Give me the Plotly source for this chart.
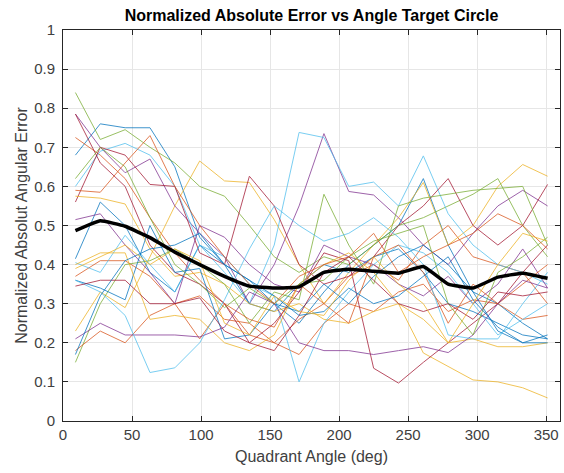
import plotly.graph_objects as go

angles = [9, 27, 45, 63, 81, 99, 117, 135, 153, 171, 189, 207, 225, 243, 261, 279, 297, 315, 333, 351]

subjects = [
    [0.68, 0.76, 0.75, 0.75, 0.65, 0.47, 0.40, 0.36, 0.30, 0.25, 0.33, 0.40, 0.45, 0.50, 0.62, 0.45, 0.33, 0.30, 0.25, 0.21],
    [0.725, 0.68, 0.62, 0.52, 0.43, 0.36, 0.30, 0.22, 0.20, 0.26, 0.30, 0.37, 0.40, 0.36, 0.45, 0.50, 0.42, 0.40, 0.38, 0.30],
    [0.23, 0.33, 0.29, 0.42, 0.55, 0.665, 0.614, 0.61, 0.515, 0.40, 0.30, 0.38, 0.45, 0.52, 0.61, 0.45, 0.50, 0.60, 0.656, 0.626],
    [0.785, 0.70, 0.635, 0.67, 0.55, 0.48, 0.42, 0.30, 0.40, 0.55, 0.735, 0.587, 0.578, 0.52, 0.45, 0.40, 0.48, 0.55, 0.59, 0.55],
    [0.84, 0.72, 0.745, 0.70, 0.66, 0.60, 0.575, 0.50, 0.42, 0.38, 0.42, 0.40, 0.45, 0.50, 0.52, 0.55, 0.58, 0.62, 0.50, 0.42],
    [0.60, 0.69, 0.71, 0.68, 0.60, 0.45, 0.38, 0.30, 0.45, 0.738, 0.725, 0.60, 0.611, 0.55, 0.678, 0.53, 0.45, 0.40, 0.38, 0.35],
    [0.56, 0.70, 0.68, 0.605, 0.60, 0.43, 0.40, 0.626, 0.55, 0.40, 0.35, 0.37, 0.42, 0.50, 0.55, 0.62, 0.50, 0.45, 0.50, 0.605],
    [0.415, 0.56, 0.50, 0.38, 0.33, 0.45, 0.40, 0.30, 0.28, 0.35, 0.40, 0.38, 0.42, 0.44, 0.38, 0.30, 0.28, 0.25, 0.22, 0.21],
    [0.37, 0.41, 0.41, 0.37, 0.30, 0.32, 0.26, 0.25, 0.20, 0.17, 0.25, 0.30, 0.28, 0.33, 0.35, 0.28, 0.31, 0.30, 0.26, 0.27],
    [0.575, 0.57, 0.555, 0.44, 0.37, 0.38, 0.35, 0.30, 0.28, 0.30, 0.26, 0.25, 0.28, 0.30, 0.174, 0.139, 0.105, 0.10, 0.085, 0.059],
    [0.515, 0.53, 0.45, 0.38, 0.30, 0.50, 0.47, 0.40, 0.35, 0.33, 0.45, 0.42, 0.40, 0.35, 0.32, 0.37, 0.30, 0.35, 0.44, 0.34],
    [0.15, 0.30, 0.40, 0.41, 0.44, 0.40, 0.35, 0.25, 0.33, 0.31, 0.58, 0.45, 0.35, 0.55, 0.57, 0.58, 0.59, 0.595, 0.60, 0.45],
    [0.405, 0.38, 0.475, 0.40, 0.33, 0.45, 0.42, 0.35, 0.32, 0.10, 0.25, 0.33, 0.40, 0.45, 0.43, 0.38, 0.30, 0.22, 0.26, 0.30],
    [0.785, 0.66, 0.60, 0.45, 0.38, 0.35, 0.30, 0.20, 0.25, 0.33, 0.43, 0.41, 0.135, 0.097, 0.15, 0.20, 0.25, 0.30, 0.38, 0.45],
    [0.36, 0.34, 0.31, 0.50, 0.38, 0.39, 0.21, 0.22, 0.30, 0.28, 0.35, 0.30, 0.37, 0.42, 0.45, 0.40, 0.33, 0.23, 0.20, 0.22],
    [0.18, 0.23, 0.20, 0.27, 0.30, 0.21, 0.30, 0.26, 0.24, 0.35, 0.30, 0.25, 0.42, 0.45, 0.38, 0.25, 0.35, 0.30, 0.35, 0.40],
    [0.40, 0.43, 0.43, 0.26, 0.27, 0.26, 0.20, 0.18, 0.22, 0.35, 0.40, 0.43, 0.38, 0.30, 0.26, 0.20, 0.21, 0.19, 0.19, 0.20],
    [0.21, 0.25, 0.22, 0.22, 0.22, 0.215, 0.24, 0.33, 0.30, 0.20, 0.18, 0.18, 0.17, 0.18, 0.19, 0.175, 0.22, 0.30, 0.36, 0.34],
    [0.62, 0.70, 0.65, 0.52, 0.40, 0.35, 0.29, 0.34, 0.30, 0.35, 0.36, 0.42, 0.46, 0.48, 0.50, 0.30, 0.22, 0.38, 0.42, 0.47],
    [0.36, 0.33, 0.27, 0.124, 0.136, 0.20, 0.31, 0.44, 0.55, 0.50, 0.46, 0.48, 0.52, 0.47, 0.40, 0.22, 0.21, 0.21, 0.30, 0.38],
    [0.345, 0.36, 0.36, 0.30, 0.30, 0.315, 0.23, 0.20, 0.18, 0.27, 0.38, 0.42, 0.36, 0.30, 0.28, 0.30, 0.26, 0.33, 0.32, 0.33],
    [0.17, 0.32, 0.41, 0.44, 0.45, 0.48, 0.40, 0.36, 0.32, 0.27, 0.28, 0.34, 0.30, 0.32, 0.37, 0.42, 0.31, 0.24, 0.20, 0.20],
    [0.59, 0.585, 0.66, 0.73, 0.60, 0.50, 0.42, 0.35, 0.30, 0.37, 0.40, 0.42, 0.48, 0.38, 0.42, 0.45, 0.48, 0.53, 0.50, 0.44],
    [0.39, 0.42, 0.45, 0.40, 0.44, 0.41, 0.25, 0.22, 0.32, 0.28, 0.27, 0.36, 0.42, 0.35, 0.30, 0.20, 0.30, 0.40, 0.48, 0.46],
]

mean_error = [0.487, 0.512, 0.498, 0.469, 0.432, 0.400, 0.370, 0.345, 0.340, 0.343,
              0.380, 0.388, 0.383, 0.378, 0.395, 0.350, 0.340, 0.368, 0.378, 0.365]

x_ticks = [0, 50, 100, 150, 200, 250, 300, 350]
y_ticks = [0, 0.1, 0.2, 0.3, 0.4, 0.5, 0.6, 0.7, 0.8, 0.9, 1]
y_tick_labels = ["0", "0.1", "0.2", "0.3", "0.4", "0.5", "0.6", "0.7", "0.8", "0.9", "1"]

palette = ["#0072BD", "#D95319", "#EDB120", "#7E2F8E", "#77AC30", "#4DBEEE", "#A2142F"]
FONT = "Liberation Sans, Arial, sans-serif"

fig = go.Figure()
for i, vals in enumerate(subjects):
    fig.add_trace(go.Scatter(
        x=angles, y=vals, mode="lines",
        line=dict(color=palette[i % len(palette)], width=1),
        opacity=0.75, showlegend=False, hoverinfo="skip",
    ))

fig.add_trace(go.Scatter(
    x=angles, y=mean_error, mode="lines",
    line=dict(color="#000000", width=3.5, shape="spline", smoothing=0.3),
    showlegend=False,
))

axis_common = dict(
    showline=True, linecolor="#262626", linewidth=1, mirror="ticks",
    ticks="inside", ticklen=5, tickcolor="#262626",
    showgrid=True, gridcolor="#e6e6e6", gridwidth=1, zeroline=False,
    tickfont=dict(family=FONT, size=15, color="#404040"),
)

fig.update_layout(
    width=564, height=473,
    margin=dict(l=63, r=4, t=30, b=52),
    paper_bgcolor="white", plot_bgcolor="white",
    title=dict(
        text="<b>Normalized Absolute Error vs Angle Target Circle</b>",
        x=0.5, xref="paper", xanchor="center",
        y=1 - 15 / 473, yref="container", yanchor="middle",
        font=dict(family=FONT, size=16, color="#000000"),
    ),
    xaxis=dict(
        range=[0, 360], tickvals=x_ticks,
        title=dict(text="Quadrant Angle (deg)", standoff=8,
                   font=dict(family=FONT, size=16, color="#404040")),
        **axis_common,
    ),
    yaxis=dict(
        range=[0, 1], tickvals=y_ticks, ticktext=y_tick_labels,
        ticklabelstandoff=4,
        title=dict(text="Normalized Absolut Angular Error", standoff=2,
                   font=dict(family=FONT, size=16, color="#404040")),
        **axis_common,
    ),
)

fig.write_html("out.html")
